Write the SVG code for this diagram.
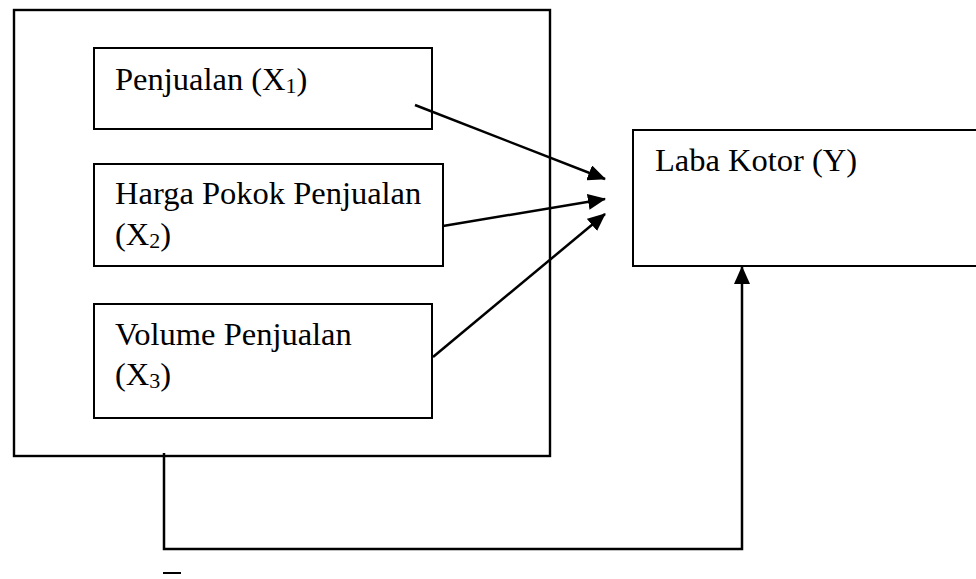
<svg xmlns="http://www.w3.org/2000/svg" width="976" height="579" viewBox="0 0 976 579">
  <style>
    .box { fill: #ffffff; stroke: #000000; stroke-width: 2; }
    .outer { fill: none; stroke: #000000; stroke-width: 2.4; }
    .lbl { font-family: "Liberation Serif", "Times New Roman", serif; font-size: 32.5px; fill: #000000; }
    .sub { font-size: 22px; }
    .conn { fill: none; stroke: #000000; stroke-width: 2.5; }
  </style>
  <defs>
    <marker id="arrow" markerUnits="userSpaceOnUse" markerWidth="18" markerHeight="16" viewBox="0 0 18 16" refX="17" refY="8" orient="auto">
      <path d="M0,0 L18,8 L0,16 z" fill="#000000"/>
    </marker>
  </defs>
  <rect width="976" height="579" fill="#ffffff"/>

  <g id="outer-frame">
    <rect class="outer" x="14" y="10" width="536" height="446"/>
  </g>

  <g id="node-x1">
    <rect class="box" x="94" y="48" width="338" height="81"/>
    <text class="lbl" x="115" y="90">Penjualan (X<tspan class="sub" dy="3">1</tspan><tspan dy="-3">)</tspan></text>
  </g>

  <g id="node-x2">
    <rect class="box" x="94" y="164" width="349" height="102"/>
    <text class="lbl" x="115" y="204">Harga Pokok Penjualan</text>
    <text class="lbl" x="115" y="245">(X<tspan class="sub" dy="3">2</tspan><tspan dy="-3">)</tspan></text>
  </g>

  <g id="node-x3">
    <rect class="box" x="94" y="304" width="338" height="114"/>
    <text class="lbl" x="115" y="345">Volume Penjualan</text>
    <text class="lbl" x="115" y="385">(X<tspan class="sub" dy="3">3</tspan><tspan dy="-3">)</tspan></text>
  </g>

  <g id="node-y">
    <rect class="box" x="633" y="130" width="360" height="136"/>
    <text class="lbl" x="655" y="171">Laba Kotor (Y)</text>
  </g>

  <g id="connectors">
    <line class="conn" x1="415" y1="105" x2="605" y2="179" marker-end="url(#arrow)"/>
    <line class="conn" x1="443" y1="226" x2="605" y2="199" marker-end="url(#arrow)"/>
    <line class="conn" x1="433" y1="357" x2="605" y2="214" marker-end="url(#arrow)"/>
    <path class="conn" d="M164,453 V549 H742 V267" marker-end="url(#arrow)"/>
  </g>

  <g id="dash-mark">
    <line x1="163" y1="573" x2="181" y2="573" stroke="#000000" stroke-width="2"/>
  </g>
</svg>
